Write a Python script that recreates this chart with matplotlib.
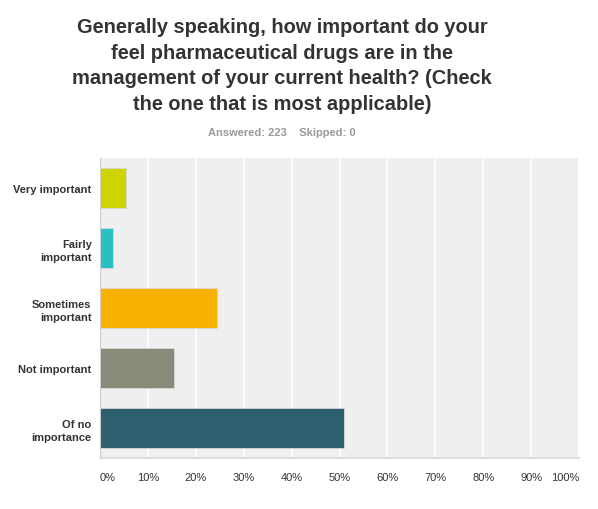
import matplotlib.pyplot as plt

categories = ['Very important', 'Fairly\nimportant', 'Sometimes\nimportant',
              'Not important', 'Of no\nimportance']
percents = [5.38, 2.69, 24.44, 15.47, 51.03]
colors = ['#cdd400', '#2abfc0', '#f9b100', '#8a8a78', '#2d606e']
tick_vals = [0, 10, 20, 30, 40, 50, 60, 70, 80, 90, 100]
tick_labels = ['%d%%' % v for v in tick_vals]

title = ('Generally speaking, how important do your\n'
         'feel pharmaceutical drugs are in the\n'
         'management of your current health? (Check\n'
         'the one that is most applicable)')
subtitle = 'Answered: 223    Skipped: 0'

plt.rcParams['font.family'] = ['Liberation Sans', 'DejaVu Sans']

W, H = 598, 510
fig = plt.figure(figsize=(W / 100, H / 100), dpi=100)
# plot area: x 100..579, y 159..459 (pixels)
ax = fig.add_axes([100 / W, 1 - 459 / H, 479 / W, 300 / H])

y = list(range(len(categories)))
ax.barh(y, percents, height=0.667, color=colors, edgecolor='#d8d8d8',
        linewidth=0.6, zorder=3)

ax.set_facecolor('#efefef')
ax.set_xlim(0, 100)
ax.set_ylim(4.5, -0.5)
ax.set_xticks(tick_vals)
ax.set_xticklabels(tick_labels, fontsize=8, color='#333333')
labels = ax.get_xticklabels()
labels[0].set_ha('left')
labels[-1].set_ha('right')
ax.set_yticks(y)
ax.set_yticklabels(categories, fontsize=8, fontweight='bold', color='#333333',
                   linespacing=1.4)
ax.tick_params(axis='x', length=0, pad=10)
ax.tick_params(axis='y', length=0, pad=6)
ax.grid(axis='x', color='white', linewidth=1.2, zorder=1)
for s in ['top', 'right']:
    ax.spines[s].set_visible(False)
ax.spines['left'].set_color('#cccccc')
ax.spines['bottom'].set_color('#dddddd')
ax.spines['bottom'].set_linewidth(1.5)

fig.text(282 / W, 1 - 18 / H, title, ha='center', va='top', fontsize=14.4,
         fontweight='bold', color='#333333', linespacing=1.45)
fig.text(282 / W, 1 - 133 / H, subtitle, ha='center', va='center',
         fontsize=8, fontweight='bold', color='#999999')

fig.savefig('out.png', dpi=100)
